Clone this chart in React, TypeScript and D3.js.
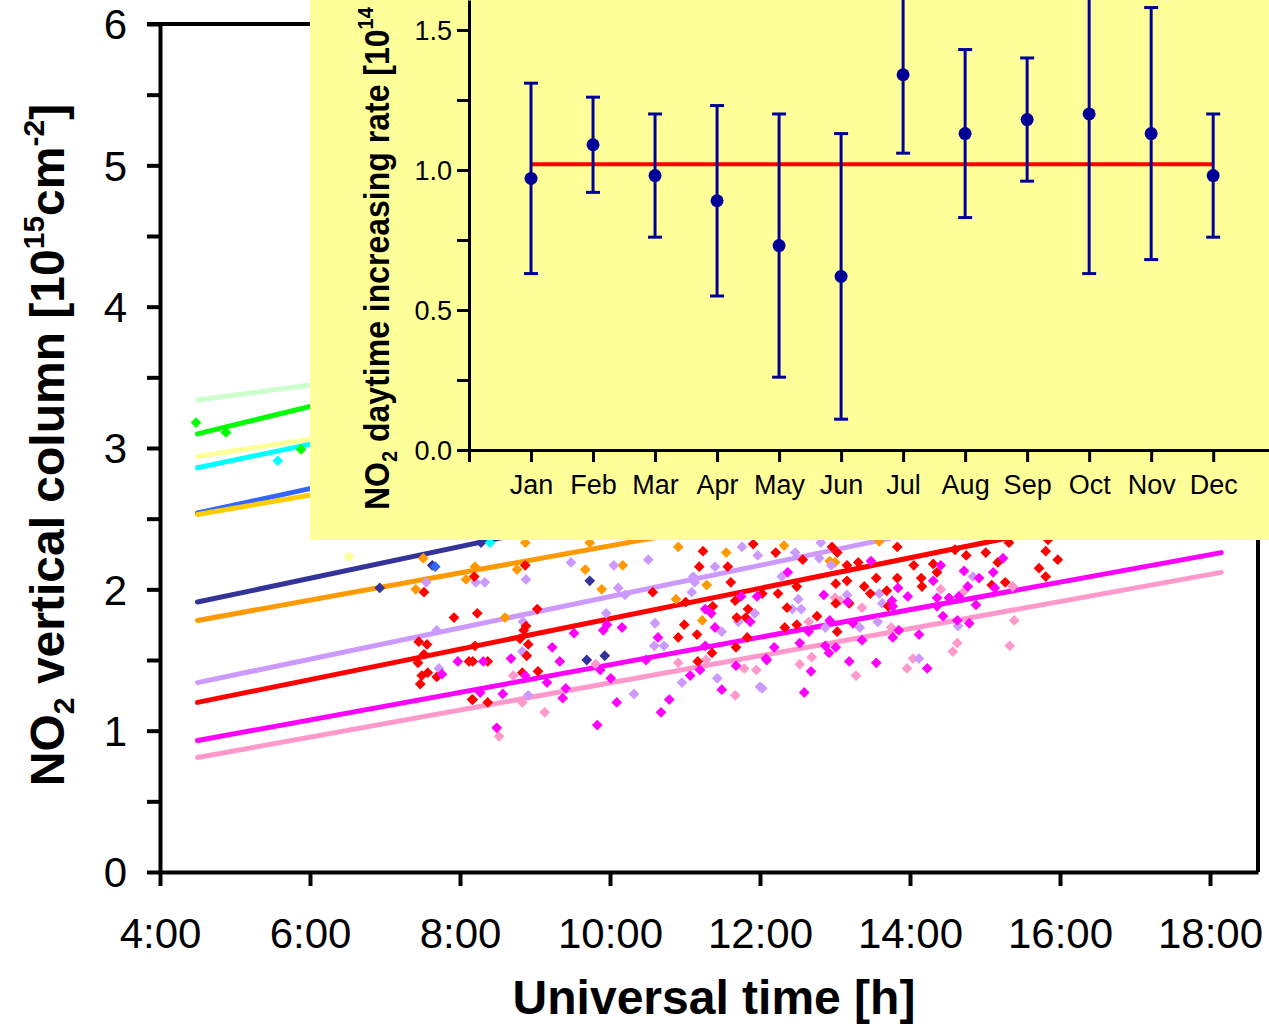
import { useRef, useEffect } from 'react';
import * as d3 from 'd3';

// ---- main chart: NO2 columns vs UT, one colour per month ----
const seriesColors = ['#ccffcc', '#00ff00', '#ffff99', '#00ffff', '#3366ff', '#ffcc00',
  '#333399', '#ff9900', '#cc99ff', '#ff0000', '#ff00ff', '#ff99cc'];

// linear fits, value at fitFrom and at fitTo hours
const fitFrom = 4.5, fitTo = 18.15;
const fitStart = [3.34, 3.10, 2.94, 2.86, 2.54, 2.53, 1.91, 1.78, 1.34, 1.20, 0.93, 0.81];
const fitEnd = [4.30, 4.86, 4.07, 4.38, 4.11, 3.77, 3.44, 3.09, 2.85, 2.67, 2.26, 2.12];

// observations [UT hour, column]
const ptsLightGreen: number[][] = [];
const ptsGreen = [[4.48, 3.18], [4.88, 3.11], [5.88, 2.99]];
const ptsLightYellow = [[6.52, 2.23]];
const ptsCyan = [[5.57, 2.91], [8.4, 2.33]];
const ptsBlue = [[7.67, 2.16]];
const ptsGold: number[][] = [];
const ptsNavy = [[7.63, 2.17], [6.93, 2.01], [8.28, 2.33], [9.73, 2.06], [9.69, 1.50], [9.93, 1.53]];
const ptsOrange = [[7.51, 2.22], [7.41, 2.00], [8.2, 2.16], [8.08, 2.07], [8.87, 2.33], [9.73, 2.33],
  [8.76, 2.14], [9.67, 2.14], [9.89, 2.00], [10.17, 2.17], [10.91, 2.30], [11.55, 2.26], [11.29, 2.03],
  [10.88, 1.93], [8.6, 1.80], [11.23, 1.78], [12.32, 2.31], [12.93, 2.20], [13.0, 2.19], [13.59, 2.34]];
const ptsLavender = [[7.55, 2.05], [8.21, 2.05], [7.69, 1.71], [7.72, 1.44], [8.33, 2.05], [8.88, 2.07],
  [9.48, 2.19], [10.05, 2.17], [10.51, 2.21], [11.76, 2.30], [11.97, 2.24], [11.4, 2.16], [11.11, 2.09],
  [11.13, 2.05], [10.11, 2.01], [10.2, 1.96], [11.09, 1.98], [8.84, 1.77], [9.95, 1.83], [10.6, 1.76],
  [11.49, 1.70], [11.71, 1.77], [11.93, 1.83], [8.83, 1.56], [10.59, 1.60], [10.72, 1.60], [10.96, 1.34],
  [11.43, 1.37], [12.0, 1.31], [8.91, 1.25], [10.32, 1.26], [12.81, 2.33], [12.47, 2.26], [12.79, 2.22],
  [12.95, 2.17], [12.29, 2.09], [13.59, 1.97], [13.16, 1.96], [13.63, 1.90], [14.84, 2.09], [12.51, 1.93],
  [12.43, 1.86], [12.55, 1.86], [12.87, 1.73], [13.33, 1.73], [13.57, 1.77], [14.64, 1.74], [14.12, 1.51],
  [12.03, 1.30]];
const ptsRed = [[7.52, 1.98], [8.19, 2.09], [7.92, 1.80], [8.23, 1.83], [7.45, 1.63], [7.56, 1.61],
  [7.52, 1.54], [7.44, 1.48], [8.2, 1.60], [8.12, 1.49], [7.49, 1.39], [7.57, 1.41], [7.47, 1.33],
  [7.69, 1.38], [8.16, 1.22], [8.87, 2.17], [11.24, 2.27], [11.91, 2.32], [11.19, 2.16], [11.57, 2.16],
  [11.61, 2.05], [10.57, 1.98], [11.01, 1.91], [11.67, 1.92], [12.03, 1.97], [9.03, 1.86], [8.85, 1.71],
  [8.88, 1.74], [10.99, 1.75], [11.16, 1.68], [11.37, 1.88], [11.69, 1.80], [11.84, 1.86], [11.81, 1.80],
  [10.91, 1.66], [8.8, 1.65], [8.91, 1.61], [8.89, 1.53], [8.37, 1.49], [8.17, 1.49], [11.36, 1.55],
  [11.68, 1.59], [11.83, 1.66], [11.17, 1.49], [9.04, 1.42], [8.83, 1.41], [8.17, 1.22], [8.37, 1.20],
  [12.21, 2.26], [12.96, 2.30], [13.03, 2.26], [12.57, 2.21], [13.16, 2.17], [13.31, 2.19], [13.83, 2.30],
  [14.05, 2.17], [14.31, 2.18], [14.36, 2.12], [14.6, 2.28], [14.75, 2.24], [15.01, 2.26], [15.32, 2.33],
  [15.81, 2.27], [15.17, 2.19], [15.72, 2.15], [15.81, 2.09], [15.97, 2.21], [12.49, 2.02], [12.24, 1.97],
  [13.01, 2.04], [13.16, 2.06], [13.55, 2.08], [13.39, 2.02], [13.47, 1.97], [13.69, 1.99], [13.83, 2.08],
  [14.15, 2.08], [14.16, 2.02], [15.27, 2.05], [15.09, 2.03], [13.01, 1.90], [13.19, 1.90], [13.71, 1.88],
  [12.36, 1.87], [12.76, 1.81], [12.49, 1.75], [12.33, 1.73], [13.03, 1.70], [15.84, 2.35]];
const ptsMagenta = [[7.97, 1.49], [7.76, 1.40], [9.52, 1.69], [9.96, 1.75], [9.91, 1.71], [10.16, 1.73],
  [11.27, 1.86], [11.35, 1.83], [11.4, 1.73], [11.75, 1.95], [11.96, 1.95], [11.87, 1.77], [10.64, 1.66],
  [9.23, 1.59], [8.68, 1.51], [8.31, 1.49], [9.33, 1.49], [9.87, 1.43], [10.48, 1.50], [11.27, 1.60],
  [11.2, 1.43], [11.07, 1.39], [11.68, 1.46], [12.08, 1.51], [11.49, 1.29], [8.87, 1.39], [9.16, 1.34],
  [10.01, 1.37], [9.41, 1.30], [9.37, 1.23], [8.57, 1.26], [8.27, 1.27], [10.09, 1.20], [10.79, 1.22],
  [10.68, 1.13], [8.49, 1.02], [9.83, 1.04], [13.48, 2.20], [14.41, 2.17], [15.24, 2.22], [12.37, 2.12],
  [12.85, 1.96], [13.84, 2.01], [13.97, 1.95], [14.31, 2.06], [14.72, 2.13], [14.92, 2.08], [15.11, 2.12],
  [15.13, 2.01], [14.77, 2.02], [14.36, 1.94], [14.52, 1.94], [14.65, 1.95], [13.17, 1.91], [13.76, 1.92],
  [13.77, 1.88], [14.36, 1.88], [14.88, 1.89], [12.93, 1.78], [12.65, 1.70], [13.24, 1.76], [13.36, 1.64],
  [13.77, 1.66], [13.85, 1.71], [14.12, 1.68], [14.44, 1.81], [14.63, 1.78], [14.79, 1.76], [12.19, 1.59],
  [12.53, 1.62], [12.87, 1.60], [13.01, 1.59], [12.92, 1.55], [12.68, 1.42], [13.19, 1.49], [13.55, 1.48],
  [14.23, 1.44], [12.09, 1.50], [12.59, 1.27]];
const ptsPink = [[9.81, 1.47], [8.71, 1.39], [8.83, 1.20], [9.13, 1.13], [8.52, 0.96], [10.91, 1.48],
  [11.28, 1.50], [11.79, 1.44], [11.95, 1.43], [11.67, 1.25], [15.37, 2.02], [14.41, 2.00], [14.71, 1.98],
  [13.0, 1.94], [13.07, 1.92], [13.36, 1.87], [12.65, 1.77], [13.75, 1.73], [15.39, 1.78], [14.63, 1.62],
  [14.57, 1.56], [15.33, 1.60], [12.69, 1.52], [12.53, 1.47], [13.28, 1.39], [13.96, 1.44], [14.04, 1.51]];

const pointSets = [ptsLightGreen, ptsGreen, ptsLightYellow, ptsCyan, ptsBlue, ptsGold,
  ptsNavy, ptsOrange, ptsLavender, ptsRed, ptsMagenta, ptsPink];

const hourTicks = [4, 6, 8, 10, 12, 14, 16, 18];
const columnTicks = [0, 1, 2, 3, 4, 5, 6];

// ---- inset: monthly daytime increasing rate ----
const months = ['Jan', 'Feb', 'Mar', 'Apr', 'May', 'Jun', 'Jul', 'Aug', 'Sep', 'Oct', 'Nov', 'Dec'];
const monthRate = [0.97, 1.09, 0.98, 0.89, 0.73, 0.62, 1.34, 1.13, 1.18, 1.20, 1.13, 0.98];
const monthErr = [0.34, 0.17, 0.22, 0.34, 0.47, 0.51, 0.28, 0.30, 0.22, 0.57, 0.45, 0.22];
const meanRate = 1.02;
const rateTicks = [0, 0.5, 1.0, 1.5];

const FONT = '"Liberation Sans", Arial, sans-serif';

export default function App() {
  const ref = useRef<SVGSVGElement>(null);

  useEffect(() => {
    const W = 1269, H = 1024;
    const svg = d3.select(ref.current).attr('width', W).attr('height', H)
      .style('font-family', FONT);
    svg.selectAll('*').remove();

    const x = d3.scaleLinear().domain([4, 18.64]).range([160, 1258]);
    const y = d3.scaleLinear().domain([0, 6]).range([872, 24]);

    // fitted lines
    const g = svg.append('g');
    seriesColors.forEach((c, i) => {
      g.append('line')
        .attr('x1', x(fitFrom)).attr('y1', y(fitStart[i]))
        .attr('x2', x(fitTo)).attr('y2', y(fitEnd[i]))
        .attr('stroke', c).attr('stroke-width', 5).attr('stroke-linecap', 'round');
    });

    // diamonds
    const sq = d3.symbol().type(d3.symbolSquare).size(58);
    const order = [11, 6, 7, 8, 9, 10, 0, 1, 2, 3, 4, 5];
    order.forEach(i => {
      g.selectAll(null).data(pointSets[i]).enter().append('path')
        .attr('d', sq)
        .attr('transform', d => `translate(${x(d[0])},${y(d[1])}) rotate(45)`)
        .attr('fill', seriesColors[i]);
    });

    // axes
    const xAxis = svg.append('g').attr('transform', 'translate(0,872)')
      .call(d3.axisBottom(x).tickValues(hourTicks).tickSize(14).tickSizeOuter(0)
        .tickPadding(32).tickFormat(d => `${d}:00`));
    const yAxis = svg.append('g').attr('transform', 'translate(160,0)')
      .call(d3.axisLeft(y).tickValues(d3.range(0, 6.01, 0.5)).tickSize(13).tickSizeOuter(0)
        .tickPadding(20).tickFormat(d => (columnTicks.includes(+d) ? `${d}` : '')));
    [xAxis, yAxis].forEach(a => {
      a.select('.domain').attr('stroke', '#000').attr('stroke-width', 4);
      a.selectAll('.tick line').attr('stroke', '#000').attr('stroke-width', 4);
      a.selectAll('text').attr('font-size', 42).attr('font-family', FONT).attr('fill', '#000');
    });
    yAxis.selectAll('text').attr('dy', '0.35em');

    // frame top / right
    svg.append('path')
      .attr('d', `M${x(4) - 13},${y(6)}H${x(18.64)}V${y(0)}`)
      .attr('fill', 'none').attr('stroke', '#000').attr('stroke-width', 4);

    svg.append('text')
      .attr('x', 714).attr('y', 1014).attr('text-anchor', 'middle')
      .attr('font-size', 48).attr('font-weight', 'bold')
      .text('Universal time [h]');

    const yl = svg.append('text')
      .attr('transform', 'translate(64,445) rotate(-90)')
      .attr('text-anchor', 'middle').attr('font-size', 48).attr('font-weight', 'bold');
    yl.append('tspan').text('NO');
    yl.append('tspan').attr('font-size', 30).attr('dy', 10).text('2');
    yl.append('tspan').attr('dy', -10).text(' vertical column [10');
    yl.append('tspan').attr('font-size', 30).attr('dy', -20).text('15');
    yl.append('tspan').attr('dy', 20).text('cm');
    yl.append('tspan').attr('font-size', 30).attr('dy', -20).text('-2');
    yl.append('tspan').attr('dy', 20).text(']');

    // ---- inset ----
    const ins = svg.append('g');
    ins.append('rect').attr('x', 310).attr('y', 0).attr('width', W - 310).attr('height', 540)
      .attr('fill', '#ffff99');

    const ix = d3.scaleLinear().domain([0, 12.9]).range([469, 1269]);
    const iy = d3.scaleLinear().domain([0, 1.607]).range([450, 0]);

    const ixAxis = ins.append('g').attr('transform', `translate(0,${iy(0)})`)
      .call(d3.axisBottom(ix).tickValues(d3.range(0, 13)).tickSize(12).tickSizeOuter(0)
        .tickPadding(13).tickFormat(d => (+d >= 1 ? months[+d - 1] : '')));
    const iyAxis = ins.append('g').attr('transform', `translate(${ix(0)},0)`)
      .call(d3.axisLeft(iy).tickValues(d3.range(0, 1.6, 0.25)).tickSize(12).tickSizeOuter(0)
        .tickPadding(5).tickFormat(d => (rateTicks.includes(+d) ? d3.format('.1f')(+d) : '')));
    [ixAxis, iyAxis].forEach(a => {
      a.select('.domain').attr('stroke', '#000').attr('stroke-width', 3);
      a.selectAll('.tick line').attr('stroke', '#000').attr('stroke-width', 3);
      a.selectAll('text').attr('font-size', 27).attr('font-family', FONT).attr('fill', '#000');
    });
    iyAxis.selectAll('text').attr('dy', '0.35em');

    // mean rate line
    ins.append('line')
      .attr('x1', ix(1)).attr('x2', ix(12)).attr('y1', iy(meanRate)).attr('y2', iy(meanRate))
      .attr('stroke', '#ff0000').attr('stroke-width', 4);

    const eb = ins.selectAll(null).data(months).enter().append('g')
      .attr('stroke', '#000099').attr('fill', '#000099').attr('stroke-width', 3);
    eb.append('line')
      .attr('x1', (_, i) => ix(i + 1)).attr('x2', (_, i) => ix(i + 1))
      .attr('y1', (_, i) => iy(monthRate[i] - monthErr[i]))
      .attr('y2', (_, i) => iy(monthRate[i] + monthErr[i]));
    [-1, 1].forEach(s => {
      eb.append('line')
        .attr('x1', (_, i) => ix(i + 1) - 7).attr('x2', (_, i) => ix(i + 1) + 7)
        .attr('y1', (_, i) => iy(monthRate[i] + s * monthErr[i]))
        .attr('y2', (_, i) => iy(monthRate[i] + s * monthErr[i]));
    });
    eb.append('circle')
      .attr('cx', (_, i) => ix(i + 1)).attr('cy', (_, i) => iy(monthRate[i]))
      .attr('r', 6.5).attr('stroke', 'none');

    const il = ins.append('text')
      .attr('transform', 'translate(389,510) scale(1.12,1) rotate(-90)')
      .attr('font-size', 32).attr('font-weight', 'bold');
    il.append('tspan').text('NO');
    il.append('tspan').attr('font-size', 20).attr('dy', 7).text('2');
    il.append('tspan').attr('dy', -7).text(' daytime increasing rate [10');
    il.append('tspan').attr('font-size', 20).attr('dy', -14).text('14');
  }, []);

  return <svg ref={ref} style={{ position: 'absolute', left: 0, top: 0, overflow: 'hidden' }}></svg>;
}
